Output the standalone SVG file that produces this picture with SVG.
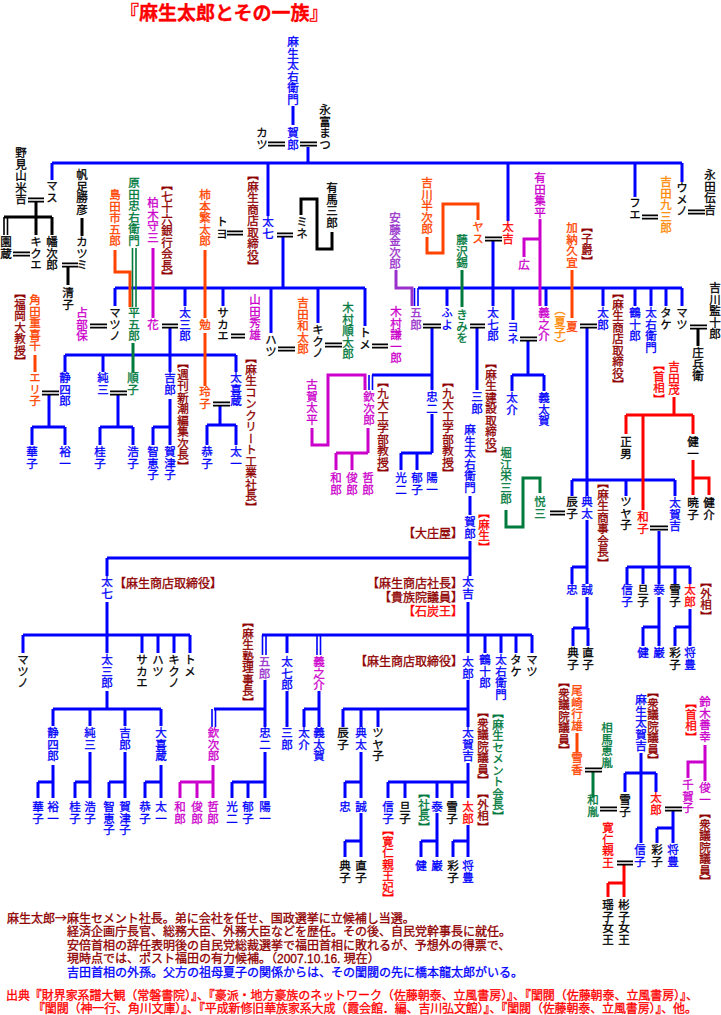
<svg xmlns="http://www.w3.org/2000/svg" width="721" height="1015" viewBox="0 0 721 1015">
<style>
text{font-family:"Noto Sans CJK JP","Noto Sans CJK SC",sans-serif;stroke-width:0.3}
.v{writing-mode:vertical-rl;font-size:11.5px}
.h{font-size:12px}
.n{font-family:"Liberation Sans","Noto Sans CJK JP",sans-serif}
.bl{fill:#0000ff;stroke:#0000ff}.k{fill:#000;stroke:#000}.dr{fill:#900000;stroke:#900000}.rd{fill:#ff0000;stroke:#ff0000}.or{fill:#ff4400;stroke:#ff4400}.og{fill:#ff8800;stroke:#ff8800}.gr{fill:#007a3d;stroke:#007a3d}.mg{fill:#cc00cc;stroke:#cc00cc}.pu{fill:#9932cc;stroke:#9932cc}
.c{fill:none;stroke-width:3}
.sb{stroke:#0000ff}.sk{stroke:#000}.sr{stroke:#ff0000}.so{stroke:#ff4400}.sg{stroke:#007a3d}.sm{stroke:#cc00cc}.sp{stroke:#9932cc}
.d{fill:none;stroke-width:1.6}
</style>
<rect width="721" height="1015" fill="#fff"/>
<text x="120" y="20" font-size="19" font-weight="bold" fill="#ff0000" stroke="#ff0000" stroke-width="0.4">『麻生太郎とその一族』</text>

<g id="connectors">
<path class="c sb" d="M293,106V125M308,147V163M52,163H682M52,163V180M268,163V216M508,163V221M635,163V197M682,163V182
M283,236V288M115,288H365M115,288V306M185,288V306M223,288V306M271,288V333M318,288V323M365,288V326
M170,328V372M65,355H236M65,355V372M103,355V372M236,355V372
M49,395V427M32,427H65M32,427V445M65,427V445
M118,395V427M100,427H133M100,427V445M133,427V445
M170,399V427M153,427H170M153,427V445M170,427V445
M220,406V425M207,425H236M207,425V445M236,425V445
M493,241V306M418,288H682M447,288V306M513,288V320M546,288V306M603,288V306M635,288V306M651,288V306M666,288V306M682,288V306
M432,328V390M372,375H432M432,414V453M401,453H432M401,453V470M417,453V470
M477,328V390M470,496V515M470,541V576M107,558H470M107,558V576
M528,341V375M512,375H544M512,375V391M544,375V391
M587,328V480M572,480H675M572,480V496M587,480V496M626,480V496M675,480V496
M587,520V567M572,567H587M572,567V584M587,567V584
M587,597V628M573,628H588M573,628V646M588,628V646
M659,531V567M627,567H690M627,567V584M643,567V584M659,567V584M675,567V584M690,567V584
M659,597V627M643,627H659M643,627V646M659,627V646
M690,609V627M675,627H690M675,627V646M690,627V646
M107,602V653M23,635H190M23,635V653M142,635V653M158,635V653M174,635V653M190,635V653
M107,691V709M53,709H161M53,709V726M90,709V726M125,709V726M161,709V726
M53,765V782M38,782H53M38,782V798M53,782V798
M90,752V782M75,782H90M75,782V798M90,782V798
M125,752V782M109,782H125M109,782V798M125,782V798
M161,765V782M145,782H161M145,782V798M161,782V798
M265,752V782M232,782H265M232,782V798M248,782V798M265,782V798
M468,602V653M262,635H532M287,635V653M485,635V653M501,635V653M516,635V653M532,635V653
M265,680V727M214,709H265M287,691V727
M319,691V709M304,709H319M304,709V727M319,709V727
M468,680V727M343,709H468M343,709V727M361,709V727M378,709V727
M361,752V782M345,782H361M345,782V798M361,782V798
M361,813V841M345,841H361M345,841V857M361,841V857
M468,763V782M388,782H468M388,782V798M405,782V798M437,782V798M452,782V798M468,782V798
M437,813V841M421,841H437M421,841V857M437,841V857
M468,825V841M453,841H468M453,841V857M468,841V857
M641,753V843M625,773H656M625,773V792M656,773V792
M673,811V828M657,828H673M657,828V843M673,828V843"/>
<path class="d sb" d="M414.5,288V306M418,288V306M369,375V390M372.5,375V390M262.5,635V655M266,635V655M317,635V655M320.5,635V655M212,709V727M215.5,709V727"/>
<path class="c sm" d="M153,248V318M540,219V306M540,239H524V257M312,428V445H328V375H365V390M368,428V453M336,453H368M336,453V470M352,453V470
M213,765V782M180,782H213M180,782V798M197,782V798M213,782V798M705,745V781M705,762H688V778"/>
<path class="c sr" d="M674,397V415M626,415H693M626,415V434M693,415V434M643,415V510M693,460V495M693,478H709V495M624,865V883M608,883H624M608,883V897M624,883V897"/>
<path class="c sk" d="M36,202V217M4,217H52M36,217V235M52,217V235M82,218V236M68,267V285M301,215V199H317V249H332V232M698,329V346"/>
<path class="d sk" d="M4,217V235M7.5,217V235"/>
<path class="c so" d="M115,250V272H130V307M205,250V318M205,333V386M427,237V253H443V204H478V220M35,355V372M572,270V318M577,733V752"/>
<path class="d sg" d="M132.5,248V307M136,248V307"/>
<path class="c sg" d="M133,343V372M462,270V307M506,510V527H523V478H540V493M593,772V797"/>
<path class="c sp" d="M396,270V288H412V306"/>
<path class="d sk" d="M268,142.4H285M268,145.6H285M300,142.4H317M300,145.6H317M28,198.4H44M28,201.6H44M13,252.4H30M13,255.6H30M62,263.4H78M62,266.6H78
M227,231.4H243M227,234.6H243M277,233.4H293M277,236.6H293M485,237.4H502M485,240.6H502M642,215.4H658M642,218.6H658M688,210.4H705M688,213.6H705
M90,324.4H107M90,327.6H107M162,324.4H178M162,327.6H178M231,334.4H245M231,337.6H245M278,347.4H295M278,350.6H295M325,343.4H342M325,346.6H342M372,344.4H388M372,347.6H388
M423,324.4H441M423,327.6H441M470,324.4H485M470,327.6H485M520,337.4H537M520,340.6H537M580,324.4H597M580,327.6H597M690,325.4H707M690,328.6H707
M42,391.4H59M42,394.6H59M110,391.4H127M110,394.6H127M213,402.4H230M213,405.6H230M550,511.4H565M550,514.6H565M650,526.4H668M650,529.6H668
M585,768.4H602M585,771.6H602M600,807.4H617M600,810.6H617M665,807.4H682M665,810.6H682M617,861.4H633M617,864.6H633"/>
</g>

<g id="top-gen">
<g id="n-taemon"><text class="v bl" x="293" y="36">麻生太右衛門</text></g>
<g id="n-kajiro"><text class="v bl" x="293" y="127">賀郎</text></g>
<g id="n-katsu"><text class="v k" x="262" y="127">カツ</text></g>
<g id="n-nagatomi"><text class="v k" x="325" y="104">永富まつ</text></g>
<g id="n-nomiyama"><text class="v k" x="21" y="147">野見山米吉</text></g>
<g id="n-masu"><text class="v k" x="52" y="180">マス</text></g>
<g id="n-sonozo"><text class="v k" x="6" y="236">園蔵</text></g>
<g id="n-kikue"><text class="v k" x="36" y="236">キクエ</text></g>
<g id="n-hatajiro"><text class="v k" x="52" y="236">幡次郎</text></g>
<g id="n-hoashi"><text class="v k" x="82" y="169">帆足勝彦</text></g>
<g id="n-katsumi"><text class="v k" x="82" y="236">カツミ</text></g>
<g id="n-kiyoko"><text class="v k" x="68" y="287">清子</text></g>
<g id="n-shimada"><text class="v or" x="115" y="189">島田市五郎</text></g>
<g id="n-harada"><text class="v gr" x="134" y="177">原田忠右衛門</text></g>
<g id="n-kashiwagi"><text class="v mg" x="153" y="197">柏木守三</text></g>
<g id="l-77bank"><text class="v dr" x="167" y="179">【七十六銀行会長】</text></g>
<g id="n-kakimoto"><text class="v or" x="205" y="189">柿本繁太郎</text></g>
<g id="n-toyo"><text class="v k" x="222" y="216">トヨ</text></g>
<g id="n-tahichi"><text class="v dr" x="253" y="169">【麻生商店取締役】</text><text class="v bl" x="268" y="216">太七</text></g>
<g id="n-mine"><text class="v k" x="302" y="216">ミネ</text></g>
<g id="n-arima"><text class="v k" x="332" y="182">有馬三郎</text></g>
<g id="n-ando"><text class="v pu" x="395" y="212">安藤金次郎</text></g>
<g id="n-yoshikawa-h"><text class="v or" x="427" y="177">吉川半次郎</text></g>
<g id="n-fujisawa"><text class="v gr" x="462" y="234">藤沢錫</text></g>
<g id="n-yasu"><text class="v or" x="478" y="221">ヤス</text></g>
<g id="n-takichi"><text class="v rd" x="508" y="221">太吉</text></g>
<g id="n-arita"><text class="v mg" x="540" y="172">有田集平</text></g>
<g id="n-hiro"><text class="v mg" x="524" y="259">広</text></g>
<g id="n-kano"><text class="v or" x="572" y="222">加納久宜</text><text class="v dr" x="587" y="221">【子爵】</text></g>
<g id="n-fue"><text class="v k" x="635" y="197">フエ</text></g>
<g id="n-yoshida-k"><text class="v og" x="666" y="176">吉田九三郎</text></g>
<g id="n-umeno"><text class="v k" x="682" y="182">ウメノ</text></g>
<g id="n-nagata"><text class="v k" x="710" y="169">永田伝吉</text></g>
</g>

<g id="mid-gen">
<g id="n-urabe"><text class="v mg" x="82" y="307">占部保</text></g>
<g id="n-matsuno"><text class="v k" x="115" y="307">マツノ</text></g>
<g id="n-heigoro"><text class="v gr" x="134" y="307">平五郎</text></g>
<g id="n-hana"><text class="v mg" x="153" y="319">花</text></g>
<g id="n-tasaburo"><text class="v bl" x="185" y="307">太三郎</text></g>
<g id="n-tsutomu"><text class="v or" x="205" y="319">勉</text></g>
<g id="n-sakae"><text class="v k" x="223" y="307">サカエ</text></g>
<g id="n-yamada"><text class="v mg" x="255" y="294">山田秀雄</text><text class="v dr" x="251" y="352">【麻生コンクリート工業社長】</text></g>
<g id="n-hatsu"><text class="v k" x="271" y="334">ハツ</text></g>
<g id="n-yoshida-w"><text class="v or" x="303" y="297">吉田和太郎</text></g>
<g id="n-kikuno"><text class="v k" x="318" y="324">キクノ</text></g>
<g id="n-kimura-j"><text class="v gr" x="348" y="302">木村順太郎</text></g>
<g id="n-tome"><text class="v k" x="365" y="327">トメ</text></g>
<g id="n-kimura-k"><text class="v mg" x="396" y="306">木村謙一郎</text></g>
<g id="n-goro"><text class="v pu" x="416" y="307">五郎</text></g>
<g id="n-fuyo"><text class="v bl" x="447" y="307">ふよ</text></g>
<g id="n-kimio"><text class="v gr" x="462" y="309">きみを</text></g>
<g id="n-tahichiro"><text class="v bl" x="493" y="307">太七郎</text></g>
<g id="n-yone"><text class="v bl" x="513" y="321">ヨネ</text></g>
<g id="n-yoshinosuke"><text class="v mg" x="544" y="307">義之介</text></g>
<g id="n-natsu"><text class="v og" x="560" y="304">（夏子）</text><text class="v or" x="572" y="321">夏</text></g>
<g id="n-taro1"><text class="v bl" x="603" y="307">太郎</text><text class="v dr" x="618" y="287">【麻生商店取締役】</text></g>
<g id="n-tsurujuro"><text class="v bl" x="635" y="307">鶴十郎</text></g>
<g id="n-taemon2"><text class="v bl" x="651" y="307">太右衛門</text></g>
<g id="n-take"><text class="v k" x="666" y="307">タケ</text></g>
<g id="n-matsu"><text class="v k" x="682" y="307">マツ</text></g>
<g id="n-yoshikawa-k"><text class="v k" x="715" y="282">吉川監十郎</text></g>
<g id="n-shobei"><text class="v k" x="698" y="347">庄兵衛</text></g>
<g id="n-tsunoda"><text class="v or" x="35" y="294">角田重喜千</text><text class="v dr" x="20" y="287">【福岡大教授】</text></g>
<g id="n-eriko"><text class="v or" x="35" y="372">エリ子</text></g>
<g id="n-seishiro"><text class="v bl" x="65" y="372">静四郎</text></g>
<g id="n-junzo"><text class="v bl" x="103" y="372">純三</text></g>
<g id="n-junko"><text class="v gr" x="133" y="372">順子</text></g>
<g id="n-kichiro"><text class="v bl" x="170" y="372">吉郎</text><text class="v dr" x="183" y="357">【週刊新潮編集次長】</text></g>
<g id="n-reiko"><text class="v or" x="205" y="386">玲子</text></g>
<g id="n-takizo"><text class="v bl" x="236" y="372">太喜蔵</text></g>
<g id="g3a">
<text class="v bl" x="32" y="446">華子</text><text class="v bl" x="65" y="446">裕一</text><text class="v bl" x="100" y="446">桂子</text><text class="v bl" x="133" y="446">浩子</text>
<text class="v bl" x="153" y="446">智恵子</text><text class="v bl" x="170" y="446">賀津子</text><text class="v bl" x="207" y="446">恭子</text><text class="v bl" x="236" y="446">太一</text>
</g>
<g id="n-koga"><text class="v mg" x="312" y="379">古賀太平</text></g>
<g id="n-kinjiro"><text class="v mg" x="369" y="391">欽次郎</text><text class="v dr" x="383" y="376">【九大工学部教授】</text></g>
<g id="n-chuji"><text class="v bl" x="432" y="391">忠二</text><text class="v dr" x="448" y="376">【九大工学部教授】</text></g>
<g id="g3b">
<text class="v mg" x="336" y="472">和郎</text><text class="v mg" x="352" y="472">俊郎</text><text class="v mg" x="368" y="472">哲郎</text>
<text class="v bl" x="401" y="472">光二</text><text class="v bl" x="417" y="472">郁子</text><text class="v bl" x="432" y="472">陽一</text>
</g>
<g id="n-saburo"><text class="v bl" x="477" y="391">三郎</text><text class="v dr" x="491" y="357">【麻生建設取締役】</text></g>
<g id="n-tasuke"><text class="v bl" x="512" y="392">太介</text></g>
<g id="n-yoshitaka"><text class="v bl" x="544" y="392">義太賀</text></g>
<g id="n-shigeru"><text class="v rd" x="659" y="359">【首相】</text><text class="v rd" x="674" y="361">吉田茂</text></g>
<g id="n-masao"><text class="v k" x="626" y="436">正男</text></g>
<g id="n-kenichi"><text class="v k" x="693" y="436">健一</text></g>
<g id="n-taemon3"><text class="v bl" x="470" y="424">麻生太右衛門</text></g>
<g id="n-kajiro2"><text class="v bl" x="470" y="516">賀郎</text><text class="v rd" x="484" y="507">【麻生】</text><text class="h dr" x="463" y="538" text-anchor="end">【大庄屋】</text></g>
<g id="n-horie"><text class="v gr" x="506" y="447">堀江栄三郎</text></g>
<g id="n-etsuzo"><text class="v gr" x="540" y="496">悦三</text></g>
<g id="n-tatsuko"><text class="v k" x="572" y="496">辰子</text></g>
<g id="n-norita"><text class="v bl" x="587" y="496">典太</text><text class="v dr" x="603" y="477">【麻生商事会長】</text></g>
<g id="n-tsuyako"><text class="v k" x="626" y="496">ツヤ子</text></g>
<g id="n-kazuko"><text class="v rd" x="643" y="511">和子</text></g>
<g id="n-takakichi"><text class="v bl" x="675" y="497">太賀吉</text></g>
<g id="n-akiko"><text class="v k" x="693" y="497">暁子</text></g>
<g id="n-kensuke"><text class="v k" x="709" y="497">健介</text></g>
<g id="g4">
<text class="v bl" x="572" y="584">忠</text><text class="v bl" x="587" y="584">誠</text>
<text class="v bl" x="627" y="584">信子</text><text class="v k" x="643" y="584">旦子</text><text class="v bl" x="659" y="584">泰</text><text class="v k" x="675" y="584">雪子</text><text class="v rd" x="690" y="584">太郎</text>
<text class="v dr" x="706" y="576">【外相】</text>
<text class="v k" x="573" y="647">典子</text><text class="v k" x="588" y="647">直子</text>
<text class="v bl" x="643" y="647">健</text><text class="v bl" x="659" y="647">巌</text>
<text class="v k" x="675" y="647">彩子</text><text class="v bl" x="690" y="647">将豊</text>
</g>
</g>

<g id="lower-tree">
<g id="m-tahichi"><text class="v bl" x="107" y="576">太七</text><text class="h dr" x="114" y="588">【麻生商店取締役】</text></g>
<g id="m-takichi"><text class="v bl" x="468" y="576">太吉</text>
<text class="h n dr" x="463" y="588" text-anchor="end">【麻生商店社長】</text>
<text class="h n dr" x="463" y="602" text-anchor="end">【貴族院議員】</text>
<text class="h n rd" x="463" y="616" text-anchor="end">【石炭王】</text></g>
<g id="m-g2">
<text class="v k" x="23" y="654">マツノ</text><text class="v bl" x="107" y="654">太三郎</text><text class="v k" x="142" y="654">サカエ</text><text class="v k" x="158" y="654">ハツ</text><text class="v k" x="174" y="654">キクノ</text><text class="v k" x="190" y="654">トメ</text>
<text class="v dr" x="248" y="616">【麻生塾理事長】</text>
<text class="v pu" x="264.5" y="656">五郎</text><text class="v bl" x="287" y="656">太七郎</text><text class="v mg" x="319" y="656">義之介</text>
<text class="h dr" x="463" y="666" text-anchor="end">【麻生商店取締役】</text>
<text class="v bl" x="468" y="656">太郎</text><text class="v bl" x="485" y="654">鶴十郎</text><text class="v bl" x="501" y="654">太右衛門</text><text class="v k" x="516" y="654">タケ</text><text class="v k" x="532" y="654">マツ</text>
</g>
<g id="m-g3">
<text class="v bl" x="53" y="727">静四郎</text><text class="v bl" x="90" y="727">純三</text><text class="v bl" x="125" y="727">吉郎</text><text class="v bl" x="161" y="727">大喜蔵</text>
<text class="v mg" x="213.5" y="727">欽次郎</text><text class="v bl" x="265" y="727">忠二</text><text class="v bl" x="287" y="727">三郎</text><text class="v bl" x="304" y="727">太介</text><text class="v bl" x="319" y="727">義太賀</text>
<text class="v k" x="343" y="727">辰子</text><text class="v bl" x="361" y="727">典太</text><text class="v k" x="378" y="727">ツヤ子</text><text class="v bl" x="468" y="727">太賀吉</text>
<text class="v dr" x="483" y="706">【衆議院議員】</text><text class="v gr" x="498" y="707">【麻生セメント会長】</text>
</g>
<g id="m-g4">
<text class="v bl" x="38" y="801">華子</text><text class="v bl" x="53" y="801">裕一</text><text class="v bl" x="75" y="801">桂子</text><text class="v bl" x="90" y="801">浩子</text>
<text class="v bl" x="109" y="801">智恵子</text><text class="v bl" x="125" y="801">賀津子</text><text class="v bl" x="145" y="801">恭子</text><text class="v bl" x="161" y="801">太一</text>
<text class="v mg" x="180" y="801">和郎</text><text class="v mg" x="197" y="801">俊郎</text><text class="v mg" x="213" y="801">哲郎</text>
<text class="v bl" x="232" y="801">光二</text><text class="v bl" x="248" y="801">郁子</text><text class="v bl" x="265" y="801">陽一</text>
<text class="v bl" x="345" y="801">忠</text><text class="v bl" x="361" y="801">誠</text>
<text class="v bl" x="388" y="801">信子</text><text class="v k" x="405" y="801">旦子</text><text class="v bl" x="437" y="801">泰</text><text class="v k" x="452" y="801">雪子</text><text class="v rd" x="468" y="801">太郎</text>
<text class="v dr" x="483" y="787">【外相】</text><text class="v gr" x="424" y="787">【社長】</text>
<text class="v rd" x="388" y="824">【寛仁親王妃】</text>
<text class="v k" x="345" y="860">典子</text><text class="v k" x="361" y="860">直子</text>
<text class="v bl" x="421" y="860">健</text><text class="v bl" x="437" y="860">巌</text><text class="v k" x="453" y="860">彩子</text><text class="v bl" x="468" y="860">将豊</text>
</g>
<g id="m-right">
<g id="n-ozaki"><text class="v dr" x="564" y="676">【衆議院議員】</text><text class="v or" x="577" y="685">尾崎行雄</text></g>
<g id="n-yukika"><text class="v or" x="577" y="752">雪香</text></g>
<g id="n-soma"><text class="v gr" x="607" y="722">相馬恵胤</text></g>
<g id="n-kazutane"><text class="v gr" x="593" y="794">和胤</text></g>
<g id="n-yukiko2"><text class="v k" x="625" y="794">雪子</text></g>
<g id="n-takakichi2"><text class="v bl" x="641" y="694">麻生太賀吉</text><text class="v dr" x="653" y="686">【衆議院議員】</text></g>
<g id="n-taro2"><text class="v rd" x="656" y="792">太郎</text></g>
<g id="n-chikako"><text class="v mg" x="688" y="779">千賀子</text></g>
<g id="n-suzuki"><text class="v rd" x="691" y="697">【首相】</text><text class="v mg" x="705" y="696">鈴木善幸</text></g>
<g id="n-shunichi"><text class="v mg" x="705" y="782">俊一</text><text class="v dr" x="705" y="807">【衆議院議員】</text></g>
<g id="n-tomohito"><text class="v rd" x="608" y="822">寛仁親王</text></g>
<g id="n-nobuko2"><text class="v bl" x="640" y="844">信子</text></g>
<g id="n-ayako2"><text class="v k" x="657" y="844">彩子</text></g>
<g id="n-masatoyo2"><text class="v bl" x="673" y="844">将豊</text></g>
<g id="n-yoko"><text class="v k" x="608" y="899">瑶子女王</text></g>
<g id="n-akiko2"><text class="v k" x="624" y="899">彬子女王</text></g>
</g>
</g>

<g id="notes">
<text class="h dr" x="7" y="923">麻生太郎→</text>
<text class="h n dr" x="67" y="923">麻生セメント社長。弟に会社を任せ、国政選挙に立候補し当選。</text>
<text class="h n dr" x="67" y="936.4">経済企画庁長官、総務大臣、外務大臣などを歴任。その後、自民党幹事長に就任。</text>
<text class="h n dr" x="67" y="949.8">安倍首相の辞任表明後の自民党総裁選挙で福田首相に敗れるが、予想外の得票で、</text>
<text class="h n dr" x="67" y="963.2">現時点では、ポスト福田の有力候補。（2007.10.16. 現在）</text>
<text class="h n bl" x="67" y="976.6">吉田首相の外孫。父方の祖母夏子の関係からは、その閨閥の先に橋本龍太郎がいる。</text>
<text class="h n rd" x="6" y="999.5" textLength="692">出典『財界家系譜大観（常磐書院）』、『豪派・地方豪族のネットワーク（佐藤朝泰、立風書房）』、『閨閥（佐藤朝泰、立風書房）』、</text>
<text class="h n rd" x="33" y="1013" textLength="664">『閨閥（神一行、角川文庫）』、『平成新修旧華族家系大成（霞会館．編、吉川弘文館）』、『閨閥（佐藤朝泰、立風書房）』、他。</text>
</g>
</svg>
